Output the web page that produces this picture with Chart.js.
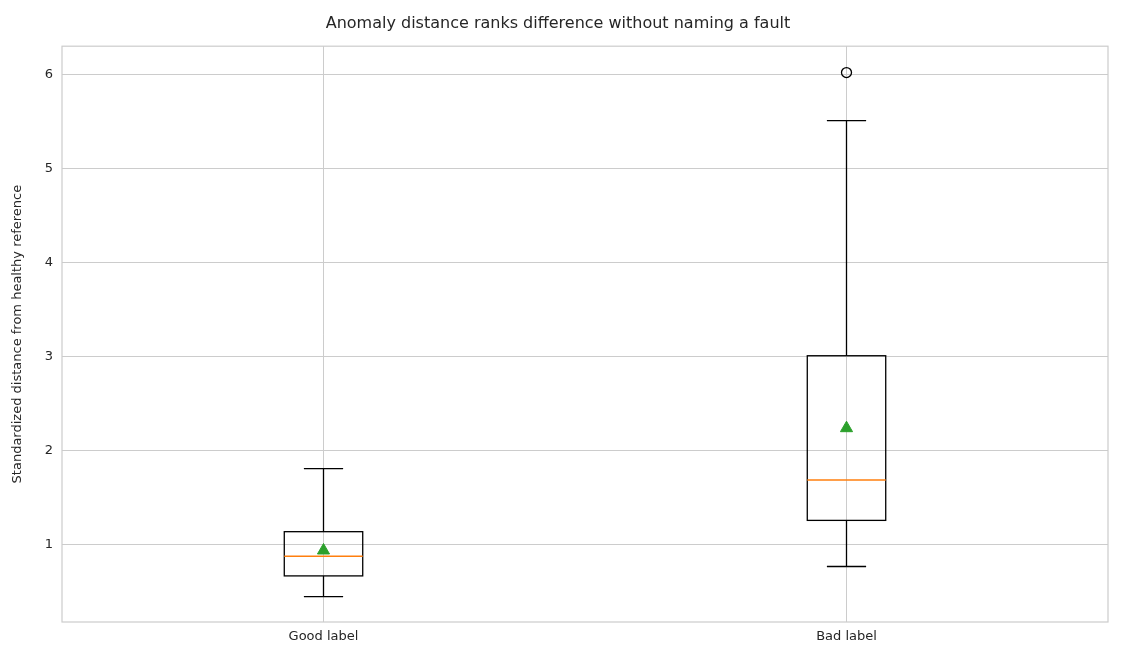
<!DOCTYPE html>
<html><head><meta charset="utf-8">
<script src="https://cdn.jsdelivr.net/npm/chart.js@4/dist/chart.umd.min.js"></script>
<style>html,body{margin:0;padding:0;background:#fff}#w{width:1123px;height:665px}</style>
</head><body><div id="w"><canvas id="c"></canvas></div>
<script>
const categories = ["Good label", "Bad label"];
const whiskerLow = [0.45, 0.77];
const q1 = [0.67, 1.26];
const median = [0.88, 1.69];
const q3 = [1.14, 3.01];
const whiskerHigh = [1.81, 5.51];
const means = [0.94, 2.24];
const outliers = [[], [6.02]];
const yTicks = [1, 2, 3, 4, 5, 6];

const boxPlugin = {
  id: 'box',
  afterDatasetsDraw(chart) {
    const ctx = chart.ctx, xs = chart.scales.x, ys = chart.scales.y;
    const unit = xs.getPixelForValue(1) - xs.getPixelForValue(0);
    categories.forEach((c, i) => {
      const x = xs.getPixelForValue(i);
      const hw = unit * 0.075, cw = unit * 0.0375;
      const Y = v => ys.getPixelForValue(v);
      ctx.save();
      ctx.strokeStyle = '#000'; ctx.lineWidth = 1.3;
      ctx.strokeRect(x - hw, Y(q3[i]), 2 * hw, Y(q1[i]) - Y(q3[i]));
      ctx.beginPath();
      ctx.moveTo(x, Y(q3[i])); ctx.lineTo(x, Y(whiskerHigh[i]));
      ctx.moveTo(x, Y(q1[i])); ctx.lineTo(x, Y(whiskerLow[i]));
      ctx.moveTo(x - cw, Y(whiskerHigh[i])); ctx.lineTo(x + cw, Y(whiskerHigh[i]));
      ctx.moveTo(x - cw, Y(whiskerLow[i])); ctx.lineTo(x + cw, Y(whiskerLow[i]));
      ctx.stroke();
      ctx.strokeStyle = '#ff7f0e'; ctx.lineWidth = 1.5;
      ctx.beginPath(); ctx.moveTo(x - hw, Y(median[i])); ctx.lineTo(x + hw, Y(median[i])); ctx.stroke();
      ctx.restore();
    });
  }
};
const borderPlugin = {
  id: 'border',
  afterDraw(chart) {
    const a = chart.chartArea, ctx = chart.ctx;
    ctx.save(); ctx.strokeStyle = '#cccccc'; ctx.lineWidth = 1.2;
    ctx.strokeRect(a.left, a.top, a.right - a.left, a.bottom - a.top); ctx.restore();
  }
};

new Chart(document.getElementById('c'), {
  type: 'scatter',
  data: {
    labels: categories,
    datasets: [
      { label: 'mean', data: means.map((m, i) => ({x: categories[i], y: m})),
        pointStyle: 'triangle', radius: 7, backgroundColor: '#2ca02c', borderColor: '#2ca02c' },
      { label: 'outliers', data: outliers.flatMap((arr, i) => arr.map(v => ({x: categories[i], y: v}))),
        pointStyle: 'circle', radius: 5, backgroundColor: 'rgba(0,0,0,0)', borderColor: '#000', borderWidth: 1.3 }
    ]
  },
  options: {
    responsive: true, maintainAspectRatio: false, animation: false,
    layout: { padding: { left: 8, right: 15, top: 0, bottom: 10 } },
    plugins: {
      legend: { display: false }, tooltip: { enabled: false },
      title: { display: true, text: 'Anomaly distance ranks difference without naming a fault',
        color: '#262626', font: { family: 'DejaVu Sans', size: 16, weight: 'normal' }, padding: { top: 14, bottom: 13 } }
    },
    scales: {
      x: { type: 'category', labels: categories, offset: true,
        grid: { color: '#cccccc', drawTicks: false, offset: false },
        border: { display: false },
        ticks: { color: '#262626', font: { family: 'DejaVu Sans', size: 13 }, padding: 7 },
        afterFit(s) { s.height = 33; } },
      y: { min: 0.18, max: 6.3,
        afterBuildTicks(s) { s.ticks = yTicks.map(v => ({value: v})); },
        grid: { color: '#cccccc', drawTicks: false }, border: { display: false },
        ticks: { color: '#262626', font: { family: 'DejaVu Sans', size: 13 }, padding: 9 },
        title: { display: true, text: 'Standardized distance from healthy reference', color: '#262626',
          font: { family: 'DejaVu Sans', size: 13 }, padding: 2 },
        afterFit(s) { s.width = 54; } }
    }
  },
  plugins: [boxPlugin, borderPlugin]
});
</script></body></html>
